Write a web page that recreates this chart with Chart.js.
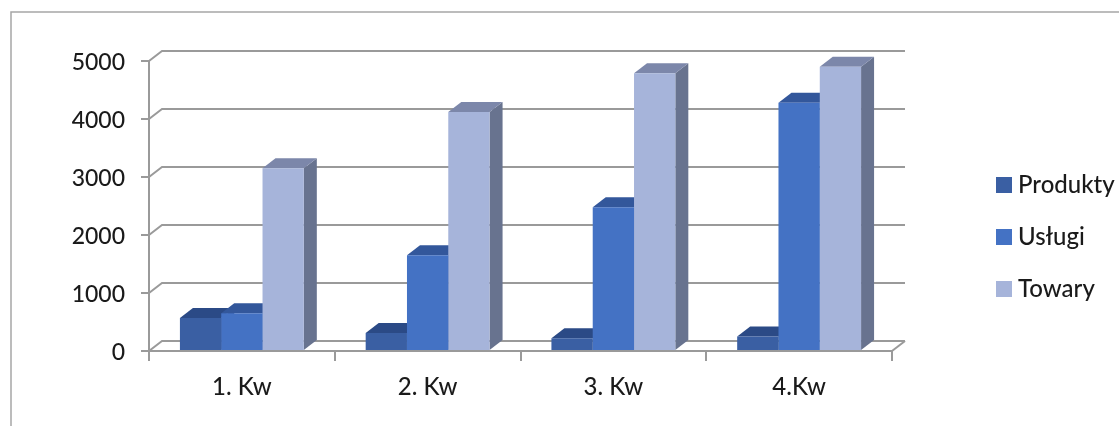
<!DOCTYPE html>
<html>
<head>
<meta charset="utf-8">
<script src="https://cdn.jsdelivr.net/npm/chart.js@4/dist/chart.umd.min.js"></script>
<style>
  html, body { margin: 0; padding: 0; background: #fff; }
  canvas { display: block; }
</style>
</head>
<body>
<canvas id="kwChart" width="1119" height="426"></canvas>
<script>
const categories = ["1. Kw", "2. Kw", "3. Kw", "4.Kw"];
const produkty = [570, 310, 220, 250];
const uslugi = [650, 1650, 2480, 4280];
const towary = [3150, 4120, 4790, 4900];

const AXIS_COLOR = "#9a9a9a";
const TEXT_COLOR = "#1a1a1a";
const FONT = "Lato";
const DEPTH_X = 13;
const DEPTH_Y = 10;

// top and side colours for the 3d look, same order as the datasets
const topColors = ["#2b4a86", "#33579b", "#7c87aa"];
const sideColors = ["#2b4a86", "#33579b", "#68738f"];

function poly(ctx, pts, color) {
  ctx.fillStyle = color;
  ctx.beginPath();
  pts.forEach((p, i) => i ? ctx.lineTo(p[0], p[1]) : ctx.moveTo(p[0], p[1]));
  ctx.closePath();
  ctx.fill();
}

const frame3d = {
  id: "frame3d",
  beforeLayout(chart) {
    // keep the plot at its place, legend takes all the room on the right
    const legend = chart.legend;
    const fit = Object.getPrototypeOf(legend).fit;
    legend.fit = function () {
      fit.call(this);
      this.width = 227;
    };
  },
  afterLayout(chart) {
    chart.legend.left = 974;
    chart.legend.top += 2;
    chart.legend.bottom += 2;
  },
  beforeDraw(chart) {
    const ctx = chart.ctx;
    ctx.save();
    ctx.strokeStyle = "#a6a6a6";
    ctx.lineWidth = 1.5;
    ctx.beginPath();
    ctx.moveTo(11, 426);
    ctx.lineTo(11, 12);
    ctx.lineTo(1119, 12);
    ctx.stroke();
    ctx.restore();
  },
  beforeDatasetsDraw(chart) {
    const ctx = chart.ctx;
    const { x, y } = chart.scales;
    ctx.save();

    // back wall lines, one for every tick
    ctx.strokeStyle = AXIS_COLOR;
    ctx.lineWidth = 2;
    y.ticks.forEach(t => {
      const py = y.getPixelForValue(t.value);
      ctx.beginPath();
      ctx.moveTo(x.left, py);
      ctx.lineTo(x.left + DEPTH_X, py - DEPTH_Y);
      ctx.lineTo(x.right + DEPTH_X, py - DEPTH_Y);
      ctx.stroke();
    });
    const floor = y.getPixelForValue(0);
    ctx.beginPath();
    ctx.moveTo(x.right, floor);
    ctx.lineTo(x.right + DEPTH_X, floor - DEPTH_Y);
    ctx.stroke();

    // side and top of each bar, the front comes from the library afterwards
    chart.data.datasets.forEach((ds, i) => {
      chart.getDatasetMeta(i).data.forEach(bar => {
        const l = bar.x - bar.width / 2;
        const r = bar.x + bar.width / 2;
        poly(ctx, [[r, bar.y], [r + DEPTH_X, bar.y - DEPTH_Y], [r + DEPTH_X, bar.base - DEPTH_Y], [r, bar.base]], sideColors[i]);
        poly(ctx, [[l, bar.y], [l + DEPTH_X, bar.y - DEPTH_Y], [r + DEPTH_X, bar.y - DEPTH_Y], [r, bar.y]], topColors[i]);
      });
    });
    ctx.restore();
  }
};

new Chart(document.getElementById("kwChart"), {
  type: "bar",
  data: {
    labels: categories,
    datasets: [
      { label: "Produkty", data: produkty, backgroundColor: "#3a5fa3" },
      { label: "Usługi", data: uslugi, backgroundColor: "#4472c4" },
      { label: "Towary", data: towary, backgroundColor: "#a6b4da" }
    ]
  },
  options: {
    responsive: false,
    animation: false,
    devicePixelRatio: 1,
    layout: { padding: { left: 0, right: 0, top: 61, bottom: 17 } },
    datasets: { bar: { barPercentage: 1, categoryPercentage: 0.667 } },
    plugins: {
      tooltip: { enabled: false },
      title: { display: false },
      legend: {
        position: "right",
        align: "center",
        labels: {
          // thin box + thick stroke, puts the text as close to the swatch as in the original
          boxWidth: 4,
          boxHeight: 4,
          padding: 28,
          color: TEXT_COLOR,
          font: { family: FONT, size: 24, weight: "500" },
          generateLabels(chart) {
            return Chart.defaults.plugins.legend.labels.generateLabels(chart)
              .map(l => ({ ...l, strokeStyle: l.fillStyle, lineWidth: 12 }));
          }
        }
      }
    },
    scales: {
      x: {
        afterFit(scale) { scale.height = 58; },
        grid: { drawOnChartArea: false, color: AXIS_COLOR, lineWidth: 2, tickLength: 10 },
        border: { color: AXIS_COLOR, width: 2, z: 1 },
        ticks: { color: TEXT_COLOR, padding: 12, font: { family: FONT, size: 24, weight: "500" }, maxRotation: 0 }
      },
      y: {
        min: 0,
        max: 5000,
        afterFit(scale) { scale.width = 149; },
        grid: { drawOnChartArea: false, color: AXIS_COLOR, lineWidth: 2, tickLength: 8 },
        border: { color: AXIS_COLOR, width: 2, z: 1 },
        ticks: {
          stepSize: 1000,
          color: TEXT_COLOR,
          padding: 16,
          labelOffset: 2,
          font: { family: FONT, size: 23, weight: "500" },
          callback: v => String(v)
        }
      }
    }
  },
  plugins: [frame3d]
});
</script>
</body>
</html>
